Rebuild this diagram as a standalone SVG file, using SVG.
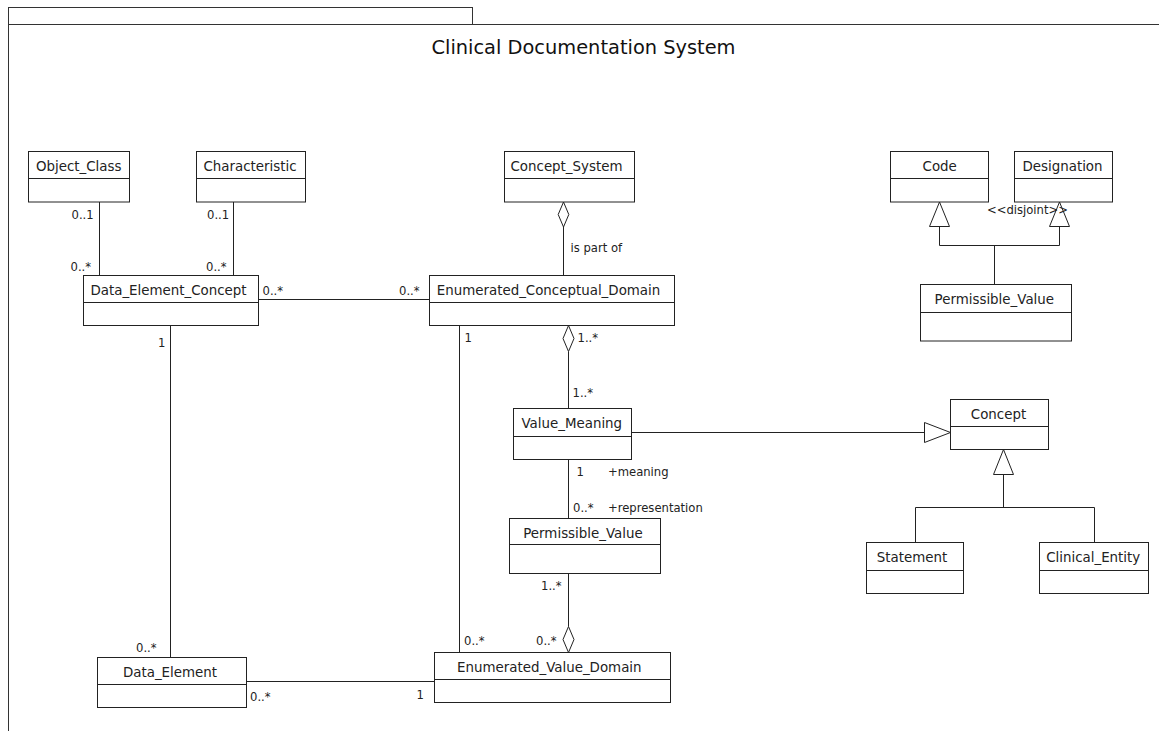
<svg xmlns="http://www.w3.org/2000/svg" width="1159" height="731" viewBox="0 0 1159 731">
  <defs>
    <style>
      .frame { fill: none; stroke: #333; stroke-width: 1; }
      .box { fill: #fff; stroke: #222; stroke-width: 1; }
      .div { stroke: #222; stroke-width: 1; }
      .edge { fill: none; stroke: #222; stroke-width: 1; }
      .hollow { fill: #fff; stroke: #222; stroke-width: 1; }
      .name { font-family: "DejaVu Sans", Verdana, sans-serif; font-size: 13.4px; fill: #222; text-anchor: middle; }
      .lbl { font-family: "DejaVu Sans", Verdana, sans-serif; font-size: 11.6px; fill: #222; }
      .title { font-family: "DejaVu Sans", Verdana, sans-serif; font-size: 19.4px; fill: #111; text-anchor: middle; }
    </style>
  </defs>

  <rect width="1159" height="731" fill="#fff"/>

  <!-- package frame with name tab -->
  <g id="frame">
    <rect class="frame" x="8.5" y="7.5" width="464" height="17"/>
    <path class="frame" d="M8.5 24.5 H1160 M8.5 24.5 V732"/>
    <text class="title" x="583.5" y="53.5">Clinical Documentation System</text>
  </g>

  <!-- connectors -->
  <g id="connectors">
    <!-- Object_Class / Characteristic to Data_Element_Concept -->
    <path class="edge" d="M99.5 202 V275.5"/>
    <path class="edge" d="M233.5 202 V275.5"/>
    <!-- Data_Element_Concept to Enumerated_Conceptual_Domain -->
    <path class="edge" d="M258.5 299.5 H429.5"/>
    <!-- Data_Element_Concept to Data_Element -->
    <path class="edge" d="M170.5 325.5 V657.5"/>
    <!-- Concept_System aggregation -->
    <path class="edge" d="M563.5 227 V275.5"/>
    <polygon class="hollow" points="563.5,202 568.8,214.5 563.5,227 558.2,214.5"/>
    <!-- Enumerated_Conceptual_Domain aggregation of Value_Meaning -->
    <path class="edge" d="M568.5 351.5 V408.5"/>
    <polygon class="hollow" points="568.5,325.5 574,338.5 568.5,351.5 563,338.5"/>
    <!-- Value_Meaning to Permissible_Value -->
    <path class="edge" d="M568.5 459.5 V518.5"/>
    <!-- Permissible_Value aggregated in Enumerated_Value_Domain -->
    <path class="edge" d="M568.5 573.5 V626.5"/>
    <polygon class="hollow" points="568.5,626.5 574,639.5 568.5,652.5 563,639.5"/>
    <!-- Enumerated_Conceptual_Domain to Enumerated_Value_Domain -->
    <path class="edge" d="M459.5 325.5 V652.5"/>
    <!-- Data_Element to Enumerated_Value_Domain -->
    <path class="edge" d="M246.5 681.5 H434.5"/>
    <!-- Value_Meaning generalizes to Concept -->
    <path class="edge" d="M631.5 432.5 H924.5"/>
    <polygon class="hollow" points="924.5,422.5 950.5,432.5 924.5,442.5"/>
    <!-- Statement / Clinical_Entity generalize to Concept -->
    <polygon class="hollow" points="1003.5,449.5 1013.5,474.5 993.5,474.5"/>
    <path class="edge" d="M1003.5 474.5 V507.5 M915.5 542.5 V507.5 H1094.5 V542.5"/>
    <!-- Permissible_Value generalizes to Code and Designation -->
    <polygon class="hollow" points="939.5,202 949.5,226.5 929.5,226.5"/>
    <polygon class="hollow" points="1059.5,202 1069.5,226.5 1049.5,226.5"/>
    <path class="edge" d="M939.5 226.5 V245.5 H1059.5 V226.5 M994.5 245.5 V284.5"/>

    <!-- association end labels -->
    <text class="lbl" x="71.5" y="219">0..1</text>
    <text class="lbl" x="70.5" y="270.5">0..*</text>
    <text class="lbl" x="207" y="219">0..1</text>
    <text class="lbl" x="206" y="270.5">0..*</text>
    <text class="lbl" x="262.5" y="294.5">0..*</text>
    <text class="lbl" x="399" y="294.5">0..*</text>
    <text class="lbl" x="570.5" y="252">is part of</text>
    <text class="lbl" x="158" y="347">1</text>
    <text class="lbl" x="464.5" y="341.5">1</text>
    <text class="lbl" x="577.5" y="341.5">1..*</text>
    <text class="lbl" x="572.5" y="397">1..*</text>
    <text class="lbl" x="576.5" y="476">1</text>
    <text class="lbl" x="608" y="476">+meaning</text>
    <text class="lbl" x="573" y="511.5">0..*</text>
    <text class="lbl" x="608" y="511.5">+representation</text>
    <text class="lbl" x="541" y="590">1..*</text>
    <text class="lbl" x="464" y="644.5">0..*</text>
    <text class="lbl" x="536" y="644.5">0..*</text>
    <text class="lbl" x="416.5" y="699">1</text>
    <text class="lbl" x="136" y="651.5">0..*</text>
    <text class="lbl" x="250" y="701">0..*</text>
    <text class="lbl" x="987" y="214">&lt;&lt;disjoint&gt;&gt;</text>
  </g>

  <!-- classes -->
  <g id="Object_Class">
    <rect class="box" x="28.5" y="151.5" width="101" height="50.5"/>
    <line class="div" x1="28.5" y1="178.5" x2="129.5" y2="178.5"/>
    <text class="name" x="78.7" y="170.5">Object_Class</text>
  </g>
  <g id="Characteristic">
    <rect class="box" x="196.5" y="151.5" width="109" height="50.5"/>
    <line class="div" x1="196.5" y1="178.5" x2="305.5" y2="178.5"/>
    <text class="name" x="250" y="170.5">Characteristic</text>
  </g>
  <g id="Concept_System">
    <rect class="box" x="504.5" y="151.5" width="130" height="50.5"/>
    <line class="div" x1="504.5" y1="178.5" x2="634.5" y2="178.5"/>
    <text class="name" x="566.5" y="170.5">Concept_System</text>
  </g>
  <g id="Code">
    <rect class="box" x="890.5" y="151.5" width="98" height="50.5"/>
    <line class="div" x1="890.5" y1="178.5" x2="988.5" y2="178.5"/>
    <text class="name" x="939.7" y="170.5">Code</text>
  </g>
  <g id="Designation">
    <rect class="box" x="1014.5" y="151.5" width="98" height="50.5"/>
    <line class="div" x1="1014.5" y1="178.5" x2="1112.5" y2="178.5"/>
    <text class="name" x="1062.5" y="170.5">Designation</text>
  </g>
  <g id="Data_Element_Concept">
    <rect class="box" x="83.5" y="275.5" width="175" height="50"/>
    <line class="div" x1="83.5" y1="302.5" x2="258.5" y2="302.5"/>
    <text class="name" x="168.5" y="294.5">Data_Element_Concept</text>
  </g>
  <g id="Enumerated_Conceptual_Domain">
    <rect class="box" x="429.5" y="275.5" width="245" height="50"/>
    <line class="div" x1="429.5" y1="302.5" x2="674.5" y2="302.5"/>
    <text class="name" x="548.5" y="294.5">Enumerated_Conceptual_Domain</text>
  </g>
  <g id="Permissible_Value_Sub">
    <rect class="box" x="920.5" y="284.5" width="151" height="56.5"/>
    <line class="div" x1="920.5" y1="312.5" x2="1071.5" y2="312.5"/>
    <text class="name" x="994.3" y="303.5">Permissible_Value</text>
  </g>
  <g id="Value_Meaning">
    <rect class="box" x="513.5" y="408.5" width="118" height="51"/>
    <line class="div" x1="513.5" y1="436.5" x2="631.5" y2="436.5"/>
    <text class="name" x="571.8" y="427.5">Value_Meaning</text>
  </g>
  <g id="Concept">
    <rect class="box" x="950.5" y="399.5" width="98" height="50"/>
    <line class="div" x1="950.5" y1="426.5" x2="1048.5" y2="426.5"/>
    <text class="name" x="998.5" y="418.5">Concept</text>
  </g>
  <g id="Permissible_Value">
    <rect class="box" x="509.5" y="518.5" width="151" height="55"/>
    <line class="div" x1="509.5" y1="544.5" x2="660.5" y2="544.5"/>
    <text class="name" x="583" y="537.5">Permissible_Value</text>
  </g>
  <g id="Statement">
    <rect class="box" x="866.5" y="542.5" width="97" height="51"/>
    <line class="div" x1="866.5" y1="570.5" x2="963.5" y2="570.5"/>
    <text class="name" x="912" y="561.5">Statement</text>
  </g>
  <g id="Clinical_Entity">
    <rect class="box" x="1039.5" y="542.5" width="109" height="51"/>
    <line class="div" x1="1039.5" y1="570.5" x2="1148.5" y2="570.5"/>
    <text class="name" x="1093.2" y="561.5">Clinical_Entity</text>
  </g>
  <g id="Data_Element">
    <rect class="box" x="97.5" y="657.5" width="149" height="50"/>
    <line class="div" x1="97.5" y1="684.5" x2="246.5" y2="684.5"/>
    <text class="name" x="170" y="676.5">Data_Element</text>
  </g>
  <g id="Enumerated_Value_Domain">
    <rect class="box" x="434.5" y="652.5" width="236" height="50"/>
    <line class="div" x1="434.5" y1="679.5" x2="670.5" y2="679.5"/>
    <text class="name" x="549.3" y="671.5">Enumerated_Value_Domain</text>
  </g>
</svg>
